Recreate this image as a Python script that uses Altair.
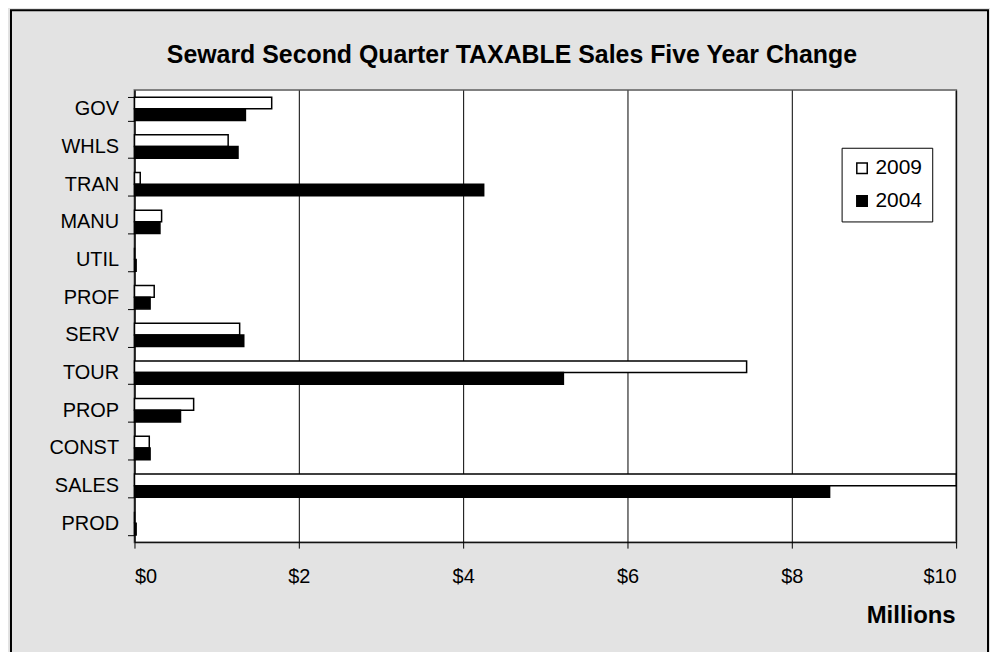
import altair as alt
import pandas as pd

categories = ["GOV", "WHLS", "TRAN", "MANU", "UTIL", "PROF", "SERV", "TOUR", "PROP", "CONST", "SALES", "PROD"]
sales_2009 = [1.67, 1.14, 0.07, 0.33, 0.0, 0.24, 1.28, 7.45, 0.72, 0.18, 10.5, 0.0]
sales_2004 = [1.35, 1.26, 4.25, 0.31, 0.02, 0.19, 1.33, 5.22, 0.56, 0.19, 8.46, 0.02]
years = ["2009", "2004"]
x_ticks = [0, 2, 4, 6, 8, 10]
chart_title = "Seward Second Quarter TAXABLE Sales Five Year Change"

rows = []
for c, a, b in zip(categories, sales_2009, sales_2004):
    rows.append({"cat": c, "year": "2009", "value": a})
    rows.append({"cat": c, "year": "2004", "value": b})
df = pd.DataFrame(rows)

FONT = "Liberation Sans"
W, H = 825, 454

bars = alt.Chart(df).mark_bar(stroke="black", strokeWidth=1.5).encode(
    x=alt.X("value:Q",
            scale=alt.Scale(domain=[0, 10], clamp=True, nice=False),
            axis=alt.Axis(values=x_ticks, labelExpr="'$' + datum.value", grid=True,
                          gridColor="black", gridWidth=1, tickSize=6, tickColor="black",
                          domainColor="black", labelFontSize=20, labelFont=FONT,
                          labelColor="black", labelPadding=19,
                          title="Millions", titleFont=FONT, titleFontSize=24,
                          titleFontWeight="bold", titleColor="black", titleAlign="right",
                          titleAnchor="end", titleX=824, titleY=74, titleBaseline="middle")),
    y=alt.Y("cat:N", sort=categories,
            scale=alt.Scale(paddingInner=0.38, paddingOuter=0.19),
            axis=alt.Axis(title=None, tickBand="extent", tickSize=7, tickColor="black",
                          domainColor="black", labelFontSize=20, labelFont=FONT,
                          labelColor="black", labelPadding=9, grid=False)),
    yOffset=alt.YOffset("year:N", sort=years),
    color=alt.Color("year:N",
                    scale=alt.Scale(domain=years, range=["white", "black"]),
                    legend=alt.Legend(orient="none", legendX=710, legendY=58, title=None,
                                      fillColor="white", strokeColor="black", padding=10,
                                      symbolType="square", symbolSize=110,
                                      symbolStrokeColor="black", symbolStrokeWidth=1.5,
                                      labelFontSize=21, labelFont=FONT, labelColor="black",
                                      rowPadding=11, labelOffset=3)),
)

frame = alt.Chart(pd.DataFrame({"a": [0]})).mark_rect(
    fillOpacity=0, stroke="black", strokeWidth=2
).encode(x=alt.value(-124), x2=alt.value(857), y=alt.value(-80), y2=alt.value(580))

title = alt.Chart(pd.DataFrame({"t": [chart_title]})).mark_text(
    font=FONT, fontSize=25, fontWeight="bold", color="black",
    align="center", baseline="alphabetic"
).encode(text="t:N", x=alt.value(379), y=alt.value(-27))

chart = alt.layer(bars, frame, title).properties(
    width=W, height=H,
    autosize=alt.AutoSizeParams(type="none"),
    padding={"left": 127, "top": 81, "right": 34, "bottom": 115},
    background="#e3e3e3",
).configure_view(stroke="#808080", strokeWidth=2, fill="white")

chart.save("out.html", embed_options={"renderer": "svg", "actions": False})
